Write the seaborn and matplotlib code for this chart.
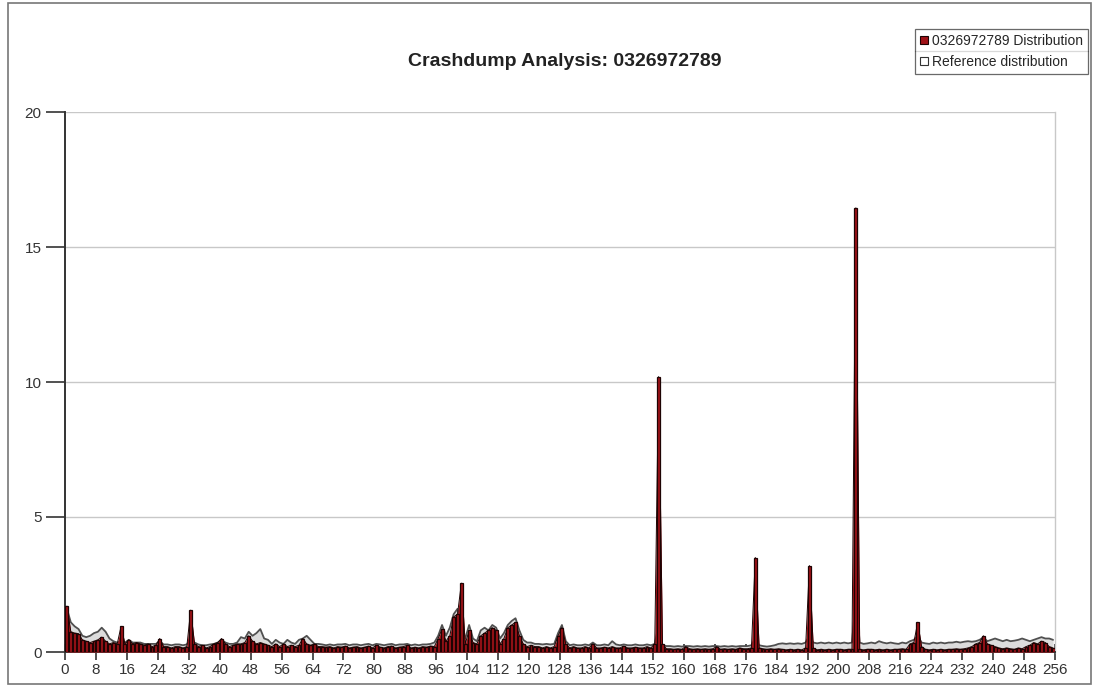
import numpy as np
import pandas as pd
import matplotlib
matplotlib.use("Agg")
import matplotlib.pyplot as plt
import seaborn as sns
from matplotlib.patches import Rectangle, Patch
from matplotlib.lines import Line2D

# Byte-value distribution of the crash dump (percent per byte value 0..255)
dump_dist = [
    1.70, 0.75, 0.70, 0.68, 0.45, 0.40, 0.35, 0.40, 0.45, 0.55, 0.40, 0.30, 0.35, 0.30, 0.95, 0.30,
    0.45, 0.30, 0.35, 0.30, 0.25, 0.30, 0.20, 0.25, 0.50, 0.20, 0.20, 0.15, 0.20, 0.20, 0.15, 0.20,
    1.55, 0.30, 0.20, 0.25, 0.15, 0.20, 0.30, 0.35, 0.50, 0.30, 0.20, 0.25, 0.30, 0.30, 0.35, 0.60,
    0.40, 0.30, 0.35, 0.30, 0.25, 0.20, 0.30, 0.20, 0.30, 0.20, 0.25, 0.20, 0.25, 0.50, 0.30, 0.25,
    0.30, 0.20, 0.20, 0.18, 0.20, 0.15, 0.20, 0.18, 0.22, 0.15, 0.18, 0.20, 0.15, 0.18, 0.22, 0.15,
    0.25, 0.18, 0.15, 0.20, 0.22, 0.15, 0.18, 0.20, 0.25, 0.15, 0.18, 0.15, 0.20, 0.18, 0.22, 0.20,
    0.50, 0.85, 0.40, 0.60, 1.30, 1.40, 2.55, 0.30, 0.80, 0.35, 0.30, 0.60, 0.70, 0.80, 0.90, 0.80,
    0.30, 0.50, 0.90, 1.00, 1.10, 0.60, 0.30, 0.20, 0.25, 0.20, 0.20, 0.15, 0.20, 0.15, 0.20, 0.60,
    0.90, 0.30, 0.15, 0.20, 0.15, 0.15, 0.20, 0.15, 0.30, 0.15, 0.15, 0.18, 0.15, 0.20, 0.15, 0.15,
    0.22, 0.15, 0.15, 0.18, 0.15, 0.15, 0.20, 0.15, 0.30, 10.20, 0.30, 0.12, 0.12, 0.10, 0.12, 0.10,
    0.20, 0.12, 0.10, 0.12, 0.10, 0.12, 0.10, 0.12, 0.20, 0.10, 0.12, 0.10, 0.12, 0.10, 0.15, 0.12,
    0.12, 0.15, 3.50, 0.15, 0.12, 0.10, 0.12, 0.10, 0.12, 0.10, 0.08, 0.10, 0.08, 0.10, 0.08, 0.15,
    3.20, 0.15, 0.08, 0.10, 0.08, 0.10, 0.08, 0.10, 0.10, 0.08, 0.10, 0.10, 16.45, 0.10, 0.08, 0.10,
    0.10, 0.08, 0.10, 0.08, 0.10, 0.08, 0.10, 0.10, 0.12, 0.10, 0.30, 0.35, 1.10, 0.20, 0.10, 0.08,
    0.10, 0.08, 0.10, 0.08, 0.10, 0.10, 0.12, 0.10, 0.12, 0.15, 0.20, 0.30, 0.35, 0.60, 0.30, 0.25,
    0.20, 0.15, 0.12, 0.15, 0.12, 0.10, 0.15, 0.12, 0.20, 0.25, 0.35, 0.30, 0.40, 0.35, 0.20, 0.15,
]

# Reference byte-value distribution
ref_dist = [
    1.60, 1.10, 0.95, 0.85, 0.60, 0.55, 0.60, 0.70, 0.75, 0.90, 0.75, 0.50, 0.40, 0.35, 0.40, 0.35,
    0.45, 0.35, 0.35, 0.35, 0.30, 0.30, 0.30, 0.30, 0.40, 0.28, 0.28, 0.25, 0.28, 0.28, 0.25, 0.28,
    0.50, 0.35, 0.28, 0.25, 0.25, 0.28, 0.30, 0.35, 0.45, 0.35, 0.30, 0.30, 0.35, 0.55, 0.50, 0.75,
    0.60, 0.70, 0.85, 0.50, 0.45, 0.30, 0.45, 0.35, 0.30, 0.45, 0.35, 0.30, 0.45, 0.50, 0.60, 0.45,
    0.30, 0.30, 0.28, 0.25, 0.28, 0.25, 0.28, 0.28, 0.30, 0.25, 0.28, 0.28, 0.25, 0.28, 0.30, 0.25,
    0.30, 0.28, 0.25, 0.28, 0.30, 0.25, 0.28, 0.28, 0.30, 0.25, 0.28, 0.25, 0.28, 0.28, 0.30, 0.35,
    0.60, 1.00, 0.60, 0.90, 1.40, 1.60, 0.90, 0.50, 1.00, 0.50, 0.40, 0.80, 0.90, 0.80, 1.00, 0.90,
    0.50, 0.70, 1.00, 1.15, 1.25, 0.80, 0.45, 0.35, 0.35, 0.30, 0.30, 0.28, 0.30, 0.28, 0.30, 0.70,
    1.00, 0.40, 0.25, 0.28, 0.25, 0.25, 0.28, 0.25, 0.35, 0.25, 0.25, 0.28, 0.25, 0.40, 0.28, 0.25,
    0.28, 0.25, 0.25, 0.28, 0.25, 0.25, 0.28, 0.25, 0.30, 1.00, 0.25, 0.22, 0.22, 0.20, 0.22, 0.20,
    0.22, 0.22, 0.20, 0.22, 0.20, 0.22, 0.20, 0.22, 0.22, 0.20, 0.22, 0.20, 0.22, 0.20, 0.22, 0.22,
    0.22, 0.25, 0.50, 0.25, 0.22, 0.20, 0.22, 0.25, 0.30, 0.32, 0.30, 0.32, 0.30, 0.32, 0.30, 0.35,
    0.60, 0.35, 0.32, 0.35, 0.32, 0.35, 0.32, 0.35, 0.32, 0.35, 0.32, 0.35, 2.00, 0.35, 0.30, 0.32,
    0.35, 0.32, 0.40, 0.35, 0.32, 0.35, 0.32, 0.30, 0.35, 0.32, 0.40, 0.45, 0.60, 0.35, 0.32, 0.30,
    0.35, 0.32, 0.35, 0.32, 0.35, 0.35, 0.38, 0.35, 0.38, 0.40, 0.38, 0.40, 0.45, 0.55, 0.40, 0.45,
    0.50, 0.45, 0.40, 0.45, 0.40, 0.42, 0.45, 0.50, 0.45, 0.40, 0.45, 0.50, 0.55, 0.50, 0.50, 0.45,
]

byte_values = list(range(256))
x_ticks = list(range(0, 257, 8))
y_ticks = [0, 5, 10, 15, 20]
title = "Crashdump Analysis: 0326972789"
dump_label = "0326972789 Distribution"
ref_label = "Reference distribution"

sns.set_theme(style="white")
plt.rcParams["font.family"] = ["Liberation Sans", "DejaVu Sans"]

df = pd.DataFrame({"byte": byte_values, "dump": dump_dist, "ref": ref_dist})
df["center"] = df["byte"] + 0.5

W, H = 1094, 687
fig = plt.figure(figsize=(W / 100, H / 100), dpi=100)
ax = fig.add_axes([65 / W, 35 / H, 990 / W, 540 / H])

red = "#a01218"
edge = "#1e0303"

# Reference distribution: light filled area with a dark outline
ax.fill_between(df["center"], 0, df["ref"], color="#dcdcdc", zorder=1, linewidth=0)
sns.lineplot(data=df, x="center", y="ref", ax=ax, color="#505050", linewidth=1.3, zorder=2)

# Dump distribution: filled area plus bars
ax.fill_between(df["center"], 0, df["dump"], color=red, zorder=3, linewidth=0)
sns.lineplot(data=df, x="center", y="dump", ax=ax, color=edge, linewidth=0.7, zorder=4)
sns.barplot(data=df, x="center", y="dump", ax=ax, native_scale=True, width=0.75,
            color=red, saturation=1, edgecolor=edge, linewidth=0.9, zorder=5)

ax.set_xlim(0, 256)
ax.set_ylim(0, 20)
ax.set_xticks(x_ticks)
ax.set_xticklabels([str(t) for t in x_ticks])
ax.set_yticks(y_ticks)
ax.set_yticklabels([str(t) for t in y_ticks])
ax.set_xlabel("")
ax.set_ylabel("")

for y in y_ticks[1:]:
    ax.axhline(y, color="#c8c8c8", linewidth=1.0, zorder=0)

ax.tick_params(axis="x", direction="inout", length=12, width=1.2, color="#333333",
               labelsize=11, labelcolor="#333333", pad=2, bottom=True)
ax.tick_params(axis="y", direction="out", length=14, width=1.2, color="#333333",
               labelsize=11, labelcolor="#333333", pad=3, left=True)

ax.spines["top"].set_visible(False)
ax.spines["right"].set_color("#c8c8c8")
ax.spines["right"].set_linewidth(1.0)
ax.spines["left"].set_color("#333333")
ax.spines["left"].set_linewidth(1.4)
ax.spines["bottom"].set_color("#333333")
ax.spines["bottom"].set_linewidth(1.4)
ax.set_facecolor("white")

fig.text(565 / W, 1 - 62 / H, title, ha="center", va="center",
         fontsize=14, fontweight="bold", color="#222222")

handles = [
    Patch(facecolor=red, edgecolor=edge, linewidth=0.8),
    Patch(facecolor="white", edgecolor="#333333", linewidth=0.8),
]
leg = fig.legend(handles, [dump_label, ref_label], loc="upper right",
                 bbox_to_anchor=(1088 / W, 1 - 29 / H), borderaxespad=0,
                 fontsize=10, frameon=True, fancybox=False, edgecolor="#444444",
                 handlelength=0.6, handleheight=0.6, handletextpad=0.3,
                 borderpad=0.35, labelspacing=0.5)
leg.get_frame().set_linewidth(0.9)

# separator between the two legend rows
fig.canvas.draw()
bb = leg.get_window_extent().transformed(fig.transFigure.inverted())
ymid = (bb.y0 + bb.y1) / 2
fig.add_artist(Line2D([bb.x0, bb.x1], [ymid, ymid], transform=fig.transFigure,
                      color="#444444", linewidth=0.9))

# outer frame of the figure
fig.add_artist(Rectangle((8 / W, 3 / H), (1091 - 8) / W, (684 - 3) / H,
                         transform=fig.transFigure, fill=False,
                         edgecolor="#777777", linewidth=1.2))

fig.savefig("out.png", dpi=100)
